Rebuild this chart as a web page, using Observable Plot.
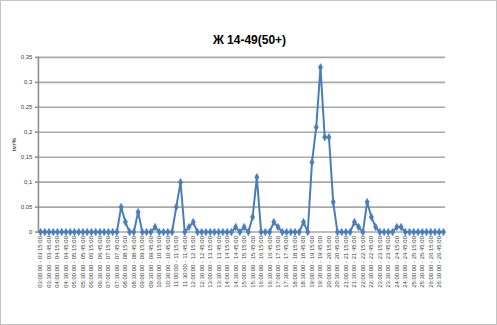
<!DOCTYPE html>
<html>
<head>
<meta charset="utf-8">
<script src="https://cdn.jsdelivr.net/npm/d3@7"></script>
<script src="https://cdn.jsdelivr.net/npm/@observablehq/plot@0.6"></script>
<style>
  html, body { margin: 0; padding: 0; background: #fff; }
  #wrap { position: relative; width: 497px; height: 325px; box-sizing: border-box; border: 1px solid #c4c4c4; overflow: hidden; font-family: "Liberation Sans", Arial, sans-serif; }
  #title { position: absolute; left: 0; width: 497px; top: 32px; text-align: center; font-size: 12px; font-weight: bold; color: #000; }
  #chart { position: absolute; left: -1px; top: -1px; }
  #chart svg [aria-label="y-axis label"] { font-weight: bold; }
</style>
</head>
<body>
<div id="wrap">
  <div id="chart"></div>
  <div id="title">Ж 14-49(50+)</div>
</div>
<script>
// Category labels: 15-minute slots from 03:00 to 26:45
const startHour = 3;
const slotCount = 96;
const pad = n => String(n).padStart(2, "0");
const categories = [];
for (let i = 0; i < slotCount; i++) {
  const a = startHour * 60 + i * 15, b = a + 15;
  categories.push(`${pad(Math.floor(a / 60))}:${pad(a % 60)}:00 - ${pad(Math.floor(b / 60))}:${pad(b % 60)}:00`);
}

// tvr% values
const values = [
  0, 0, 0, 0, 0, 0, 0, 0, 0, 0, 0, 0, 0, 0, 0, 0, 0, 0, 0, 0.05,
  0.02, 0, 0, 0.04, 0, 0, 0, 0.01, 0, 0, 0, 0, 0.05, 0.1, 0, 0.01,
  0.02, 0, 0, 0, 0, 0, 0, 0, 0, 0, 0.01, 0, 0.01, 0, 0.03, 0.11,
  0, 0, 0, 0.02, 0.01, 0, 0, 0, 0, 0, 0.02, 0, 0.14, 0.21, 0.33, 0.19,
  0.19, 0.06, 0, 0, 0, 0, 0.02, 0.01, 0, 0.06, 0.03, 0.01, 0, 0, 0, 0,
  0.01, 0.01, 0, 0, 0, 0, 0, 0, 0, 0, 0, 0
];

const yTicks = [0, 0.05, 0.1, 0.15, 0.2, 0.25, 0.3, 0.35];
const xTickLabels = categories.filter((d, i) => i % 2 === 0);

const data = categories.map((c, i) => ({ slot: c, tvr: values[i] }));
const blue = "#4a7ebb";

const chart = Plot.plot({
  width: 497,
  height: 325,
  marginLeft: 38,
  marginRight: 51,
  marginTop: 57,
  marginBottom: 93,
  style: { fontFamily: "Liberation Sans, Arial, sans-serif", fontSize: "6px", color: "#404040", background: "transparent" },
  x: { type: "point", domain: categories, padding: 0.5, align: 0.5, round: false },
  y: { domain: [0, 0.35] },
  marks: [
    Plot.gridY(yTicks, { stroke: "#a9a9a9", strokeOpacity: 1, strokeWidth: 1.6 }),
    Plot.frame({ anchor: "left", stroke: "#8f8f8f", strokeWidth: 1.6 }),
    Plot.axisY({
      ticks: yTicks,
      tickSize: 3,
      tickPadding: 3,
      tickFormat: d => d === 0 ? "0" : String(+d.toFixed(2)).replace(".", ","),
      label: "tvr%",
      labelAnchor: "center",
      labelArrow: "none",
      labelOffset: 27,
      fontSize: 6,
      stroke: "#8f8f8f",
      strokeOpacity: 1,
      strokeWidth: 1.6
    }),
    Plot.axisX({
      ticks: xTickLabels,
      tickSize: 0,
      tickPadding: 4,
      tickRotate: -90,
      label: null,
      fontSize: 6
    }),
    Plot.line(data, { x: "slot", y: "tvr", stroke: blue, strokeWidth: 2 }),
    Plot.dot(data, { x: "slot", y: "tvr", symbol: "diamond", r: 2.3, fill: blue, stroke: blue, strokeWidth: 0.5 })
  ]
});

document.getElementById("chart").appendChild(chart);
</script>
</body>
</html>
